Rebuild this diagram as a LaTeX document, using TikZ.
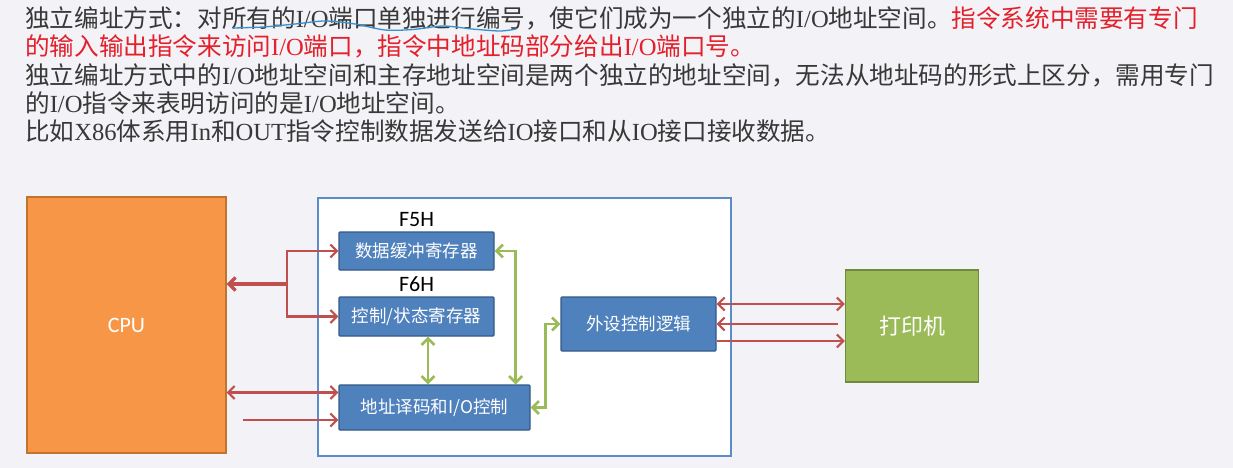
\documentclass[tikz,border=0pt]{standalone}
\usepackage{fontspec}
\setmainfont{Noto Sans CJK SC}
\newfontfamily\enfont{Liberation Serif}
\newfontfamily\calfont{Carlito}
\usetikzlibrary{arrows.meta,positioning,calc}

\definecolor{pagebg}{HTML}{F3F2F6}
\definecolor{txtgray}{HTML}{383838}
\definecolor{txtred}{HTML}{E3202B}
\definecolor{cpuorange}{HTML}{F79646}
\definecolor{cpuedge}{HTML}{C0752F}
\definecolor{regblue}{HTML}{4F81BD}
\definecolor{regedge}{HTML}{34598A}
\definecolor{ifedge}{HTML}{5B8BC8}
\definecolor{prngreen}{HTML}{9BBB59}
\definecolor{prnedge}{HTML}{6F8A3C}
\definecolor{arrred}{HTML}{C0504D}
\definecolor{arrgreen}{HTML}{9BBB59}
\definecolor{penblue}{HTML}{3A90CF}

\newcommand\en[1]{{\enfont #1}}

\begin{document}
\begin{tikzpicture}[
    x=1pt, y=-1pt,
    >={Straight Barb[length=6.5pt,width=13pt]},
    txt/.style={
        anchor=base west, inner sep=0pt, text=txtgray,
        font=\fontsize{24.6}{30}\selectfont},
    cpubox/.style={
        draw=cpuedge, line width=1.2pt, fill=cpuorange, text=white,
        font=\calfont\fontsize{22}{26}\selectfont,
        minimum width=199pt, minimum height=256pt, inner sep=0pt},
    ifbox/.style={
        draw=ifedge, line width=1.6pt, fill=white,
        minimum width=413pt, minimum height=258pt, inner sep=0pt},
    regbox/.style={
        draw=regedge, line width=1.2pt, fill=regblue, text=white,
        font=\fontsize{17.5}{20}\selectfont, rounded corners=1pt,
        minimum width=#1, inner sep=0pt},
    prnbox/.style={
        draw=prnedge, line width=1.2pt, fill=prngreen, text=white,
        font=\fontsize{22}{26}\selectfont,
        minimum width=133pt, minimum height=112pt, inner sep=0pt},
    addr/.style={
        font=\calfont\fontsize{22}{26}\selectfont, inner sep=0pt, text=black},
    rarr/.style={draw=arrred, line width=2.2pt},
    garr/.style={draw=arrgreen, line width=2.6pt}
]

%% background and page size
\fill[pagebg] (0,0) rectangle (1233,468);
\useasboundingbox (0,0) rectangle (1233,468);

%% ===== text lines =====
\node[txt] (line1) at (25,27.5)
    {独立编址方式：对所有的\en{I/O}端口单独进行编号，使它们成为一个独立的\en{I/O}地址空间。\textcolor{txtred}{指令系统中需要有专门}};
\node[txt, text=txtred] (line2) at (25,55.5)
    {的输入输出指令来访问\en{I/O}端口，指令中地址码部分给出\en{I/O}端口号。};
\node[txt] (line3) at (25,84.5)
    {独立编址方式中的\en{I/O}地址空间和主存地址空间是两个独立的地址空间，无法从地址码的形式上区分，需用专门};
\node[txt] (line4) at (25,112.5)
    {的\en{I/O}指令来表明访问的是\en{I/O}地址空间。};
\node[txt] (line5) at (25,140.5)
    {比如\en{X86}体系用\en{In}和\en{OUT}指令控制数据发送给\en{IO}接口和从\en{IO}接口接收数据。};

%% hand-drawn underline
\draw[penblue, line width=1.3pt, line cap=round] plot[smooth] coordinates
    {(233,28) (263,27) (295,24) (325,21) (355,24) (385,30) (413,29.5)
     (443,26) (472,29) (500,31) (516,29)};

%% ===== blocks =====
\node[cpubox] (cpu) at (126.5,325) {CPU};
\node[ifbox] (iface) at (524.5,327) {};

\node[regbox=155pt, minimum height=38pt] (buf) at (416.5,251) {数据缓冲寄存器};
\node[regbox=155pt, minimum height=39pt] (ctl) at (416.5,316.5) {控制/状态寄存器};
\node[regbox=191pt, minimum height=45pt] (dec) at (434.5,407.5) {地址译码和I/O控制};
\node[regbox=155pt, minimum height=54pt] (dev) at (638.5,324) {外设控制逻辑};

\node[addr, above=5pt of buf] (f5h) {F5H};
\node[addr, above=5pt of ctl] (f6h) {F6H};

\node[prnbox] (prn) at (912,326) {打印机};

%% ===== red connectors: CPU side =====
\coordinate (split) at (287,284);
\draw[rarr, <->] (buf.west) -| (split) |- (ctl.west);
\draw[rarr, line width=3.4pt, ->] (split) -- (split -| cpu.east);
\draw[rarr, <->] ([yshift=15pt]dec.west -| cpu.east) -- ([yshift=15pt]dec.west);
\coordinate (ctrl_in) at (243,420);
\draw[rarr, ->] (ctrl_in) -- (ctrl_in -| dec.west);

%% ===== red connectors: printer side =====
\draw[rarr, <->] ([yshift=20pt]dev.east) -- ([yshift=20pt]dev.east -| prn.west);
\coordinate (ack_out) at (838,324);
\draw[rarr, ->] (ack_out) -- (ack_out -| dev.east);
\draw[rarr, ->] ([yshift=-17pt]dev.east) -- ([yshift=-17pt]dev.east -| prn.west);

%% ===== green internal connectors =====
\draw[garr, <->] ([xshift=11.5pt]ctl.south) -- ([xshift=11.5pt]ctl.south |- dec.north);
\draw[garr, <->] (buf.east) -| ([xshift=-15pt]dec.north east);
\draw[garr, <->] (dec.east) -- ++(15,0) |- (dev.west);

\end{tikzpicture}
\end{document}
